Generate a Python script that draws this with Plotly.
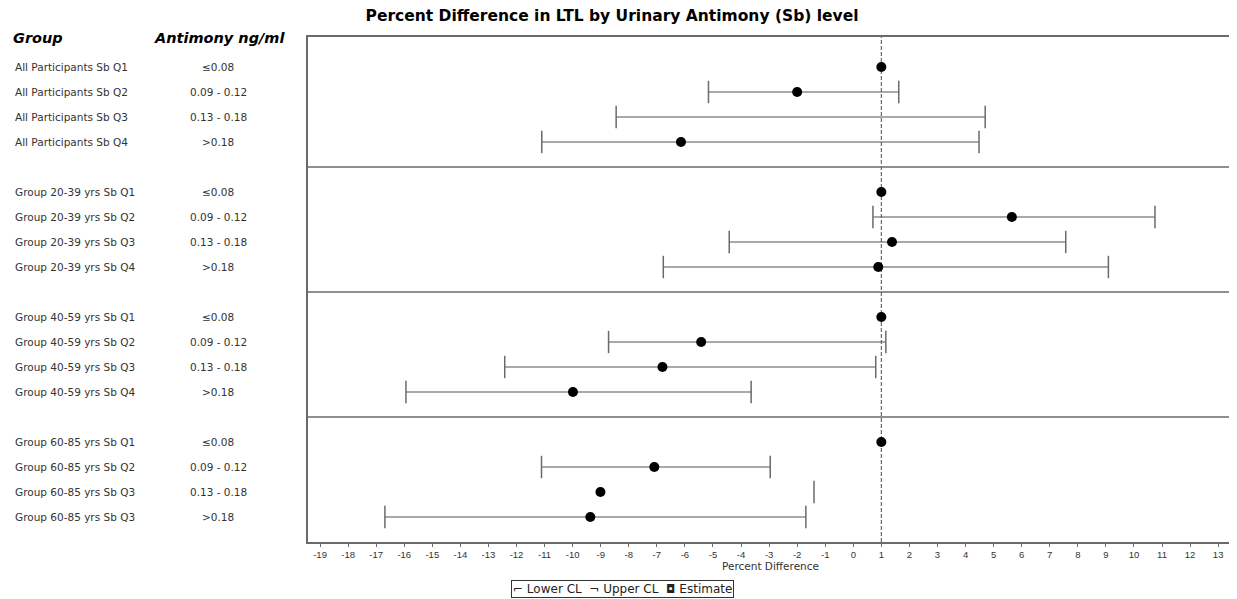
import plotly.graph_objects as go

# ---------------- data ----------------
row_labels = [
    "All Participants Sb Q1", "All Participants Sb Q2", "All Participants Sb Q3", "All Participants Sb Q4",
    "Group 20-39 yrs Sb Q1", "Group 20-39 yrs Sb Q2", "Group 20-39 yrs Sb Q3", "Group 20-39 yrs Sb Q4",
    "Group 40-59 yrs Sb Q1", "Group 40-59 yrs Sb Q2", "Group 40-59 yrs Sb Q3", "Group 40-59 yrs Sb Q4",
    "Group 60-85 yrs Sb Q1", "Group 60-85 yrs Sb Q2", "Group 60-85 yrs Sb Q3", "Group 60-85 yrs Sb Q3",
]
antimony = ["≤0.08", "0.09 - 0.12", "0.13 - 0.18", ">0.18"] * 4
estimate = [1.0, -2.0, None, -6.14,
            1.0, 5.65, 1.38, 0.89,
            1.0, -5.42, -6.80, -9.99,
            1.0, -7.09, -9.01, -9.37]
lower_cl = [None, -5.16, -8.45, -11.10,
            None, 0.70, -4.42, -6.77,
            None, -8.72, -12.42, -15.94,
            None, -11.11, None, -16.69]
upper_cl = [None, 1.62, 4.70, 4.48,
            None, 10.75, 7.57, 9.09,
            None, 1.16, 0.80, -3.64,
            None, -2.96, -1.40, -1.69]
x_ticks = list(range(-19, 14))
reference_value = 1
separators = [4, 9, 14]

# row positions: 4 rows per group, one blank slot between groups
pos = [5 * (i // 4) + (i % 4) for i in range(len(row_labels))]

# page body has an 8px default margin -> work in figure coordinates
OFF = 8
W, H = 1237 - OFF, 599 - OFF
ML, MR, MT, MB = 308 - OFF, 2, 37 - OFF, 57
FONT = "DejaVu Sans, Liberation Sans, sans-serif"
FONT2 = "Liberation Sans, Arial, sans-serif"
GRAY = "#6a6a6a"

fig = go.Figure()

# CI lines (only where both limits exist)
lx, ly = [], []
for p, lo, hi in zip(pos, lower_cl, upper_cl):
    if lo is not None and hi is not None:
        lx += [lo, hi, None]
        ly += [p, p, None]
fig.add_trace(go.Scatter(x=lx, y=ly, mode="lines", line=dict(color="#555555", width=1.2),
                         showlegend=False, hoverinfo="skip"))

fig.add_trace(go.Scatter(
    x=lower_cl, y=pos, mode="markers", name="Lower CL", showlegend=False,
    marker=dict(symbol="line-ns", size=16, line=dict(color=GRAY, width=1.5))))
fig.add_trace(go.Scatter(
    x=upper_cl, y=pos, mode="markers", name="Upper CL", showlegend=False,
    marker=dict(symbol="line-ns", size=16, line=dict(color=GRAY, width=1.5))))
fig.add_trace(go.Scatter(
    x=estimate, y=pos, mode="markers", name="Estimate", showlegend=False,
    marker=dict(symbol="circle", size=10, color="black", line=dict(width=0))))

# reference dashed line
fig.add_shape(type="line", xref="x", yref="paper", x0=reference_value, x1=reference_value,
              y0=0, y1=1, line=dict(color=GRAY, width=1.2, dash="4px,2px"), layer="below")
# group separators
for s in separators:
    fig.add_shape(type="line", xref="paper", yref="y", x0=0, x1=1, y0=s, y1=s,
                  line=dict(color=GRAY, width=1.5), layer="below")

def px_to_paper_x(px):
    return (px - OFF - ML) / (W - ML - MR)

def px_to_paper_y(py):
    return (H - MB - (py - OFF)) / (H - MT - MB)

ann = []
for lab, sb, p in zip(row_labels, antimony, pos):
    ann.append(dict(x=px_to_paper_x(12), y=p, xref="paper", yref="y", text=lab,
                    showarrow=False, xanchor="left", yanchor="middle",
                    font=dict(family=FONT, size=10.5, color="#333333")))
    ann.append(dict(x=px_to_paper_x(218), y=p, xref="paper", yref="y", text=sb,
                    showarrow=False, xanchor="center", yanchor="middle",
                    font=dict(family=FONT, size=10.5, color="#333333")))
ann.append(dict(x=px_to_paper_x(10), y=px_to_paper_y(38), xref="paper", yref="paper",
                text="<b><i>Group</i></b>", showarrow=False, xanchor="left", yanchor="middle",
                font=dict(family=FONT, size=14.5, color="black")))
ann.append(dict(x=px_to_paper_x(219), y=px_to_paper_y(38), xref="paper", yref="paper",
                text="<b><i>Antimony ng/ml</i></b>", showarrow=False, xanchor="center",
                yanchor="middle", font=dict(family=FONT, size=14.5, color="black")))
# legend box (SAS style)
ann.append(dict(x=px_to_paper_x(623), y=px_to_paper_y(588.5), xref="paper", yref="paper",
                text="⌐ Lower CL  ¬ Upper CL  ◘ Estimate", showarrow=False,
                xanchor="center", yanchor="middle", bordercolor="#333333", borderwidth=1,
                borderpad=1, bgcolor="white",
                font=dict(family=FONT, size=12, color="#222222")))

fig.update_layout(
    width=W, height=H,
    margin=dict(l=ML, r=MR, t=MT, b=MB),
    paper_bgcolor="white", plot_bgcolor="white",
    title=dict(text="<b>Percent Difference in LTL by Urinary Antimony (Sb) level</b>",
               x=(612 - OFF) / W, xref="container", xanchor="center",
               y=1 - (16 - OFF) / H, yref="container", yanchor="middle",
               font=dict(family=FONT, size=15.5, color="black")),
    xaxis=dict(range=[-19.43, 13.53], tickmode="array", tickvals=x_ticks,
               ticktext=[str(t) for t in x_ticks],
               showgrid=False, zeroline=False, showline=True, mirror=True,
               linecolor=GRAY, linewidth=1.5, ticks="outside", ticklen=3, tickcolor=GRAY,
               tickfont=dict(family=FONT2, size=9.5, color="#333333"),
               title=dict(text="Percent Difference", standoff=2,
                          font=dict(family=FONT, size=10.5, color="#333333"))),
    yaxis=dict(range=[19, -1.2], showgrid=False, zeroline=False, showticklabels=False,
               showline=True, mirror=True, linecolor=GRAY, linewidth=1.5, ticks=""),
    annotations=ann,
    showlegend=False,
)

fig.write_html("out.html")
